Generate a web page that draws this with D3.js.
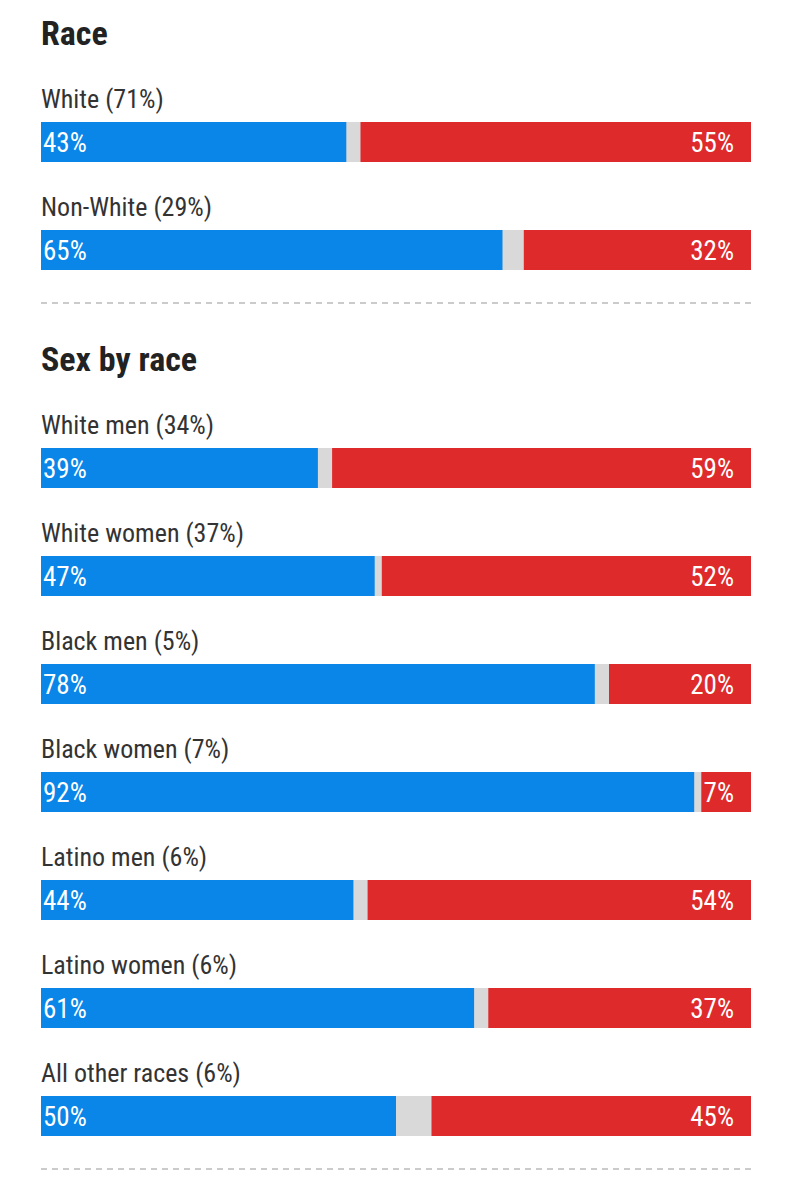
<!DOCTYPE html>
<html><head><meta charset="utf-8">
<script src="https://cdn.jsdelivr.net/npm/d3@7"></script>
<style>body{margin:0;background:#fff;}</style>
</head><body>
<script>
const sections = ["Race", "Sex by race"];
const groups = [
  {section:"Race", label:"White (71%)", dem:43, rep:55},
  {section:"Race", label:"Non-White (29%)", dem:65, rep:32},
  {section:"Sex by race", label:"White men (34%)", dem:39, rep:59},
  {section:"Sex by race", label:"White women (37%)", dem:47, rep:52},
  {section:"Sex by race", label:"Black men (5%)", dem:78, rep:20},
  {section:"Sex by race", label:"Black women (7%)", dem:92, rep:7},
  {section:"Sex by race", label:"Latino men (6%)", dem:44, rep:54},
  {section:"Sex by race", label:"Latino women (6%)", dem:61, rep:37},
  {section:"Sex by race", label:"All other races (6%)", dem:50, rep:45}
];
const font = "'Roboto Condensed','Liberation Sans Narrow','DejaVu Sans Condensed',sans-serif";
const W=792,H=1200;
const svg=d3.select("body").append("svg").attr("width",W).attr("height",H);
const x=d3.scaleLinear().domain([0,100]).range([41,751]);
const BAR=40, STEP=108;
let y=0;
const sectionTop={"Race":0,"Sex by race":326};
sections.forEach(sec=>{
  const top=sectionTop[sec];
  svg.append("text").attr("x",41).attr("y",top+45).text(sec)
    .attr("font-family",font).attr("font-weight","bold").attr("font-size",34).attr("fill","#222");
  const rows=groups.filter(g=>g.section===sec);
  rows.forEach((g,i)=>{
    const by=top+122+i*STEP;
    svg.append("text").attr("x",41).attr("y",by-14).text(g.label)
      .attr("font-family",font).attr("font-size",26).attr("fill","#333");
    svg.append("rect").attr("x",x(0)).attr("y",by).attr("width",x(100)-x(0)).attr("height",BAR).attr("fill","#d9d9d9");
    svg.append("rect").attr("x",x(0)).attr("y",by).attr("width",x(g.dem)-x(0)).attr("height",BAR).attr("fill","#0a86e8");
    svg.append("rect").attr("x",x(100-g.rep)).attr("y",by).attr("width",x(100)-x(100-g.rep)).attr("height",BAR).attr("fill","#de2a2a");
    svg.append("text").attr("x",x(0)+2).attr("y",by+30).text(g.dem+"%")
      .attr("font-family",font).attr("font-size",27).attr("fill","#fff");
    svg.append("text").attr("x",x(100)-17).attr("y",by+30).attr("text-anchor","end").text(g.rep+"%")
      .attr("font-family",font).attr("font-size",27).attr("fill","#fff");
  });
  const ly=top+122+(rows.length-1)*STEP+BAR+33;
  svg.append("line").attr("x1",41).attr("x2",751).attr("y1",ly).attr("y2",ly)
    .attr("stroke","#bbb").attr("stroke-width",1.5).attr("stroke-dasharray","6,5");
});
</script>
</body></html>
